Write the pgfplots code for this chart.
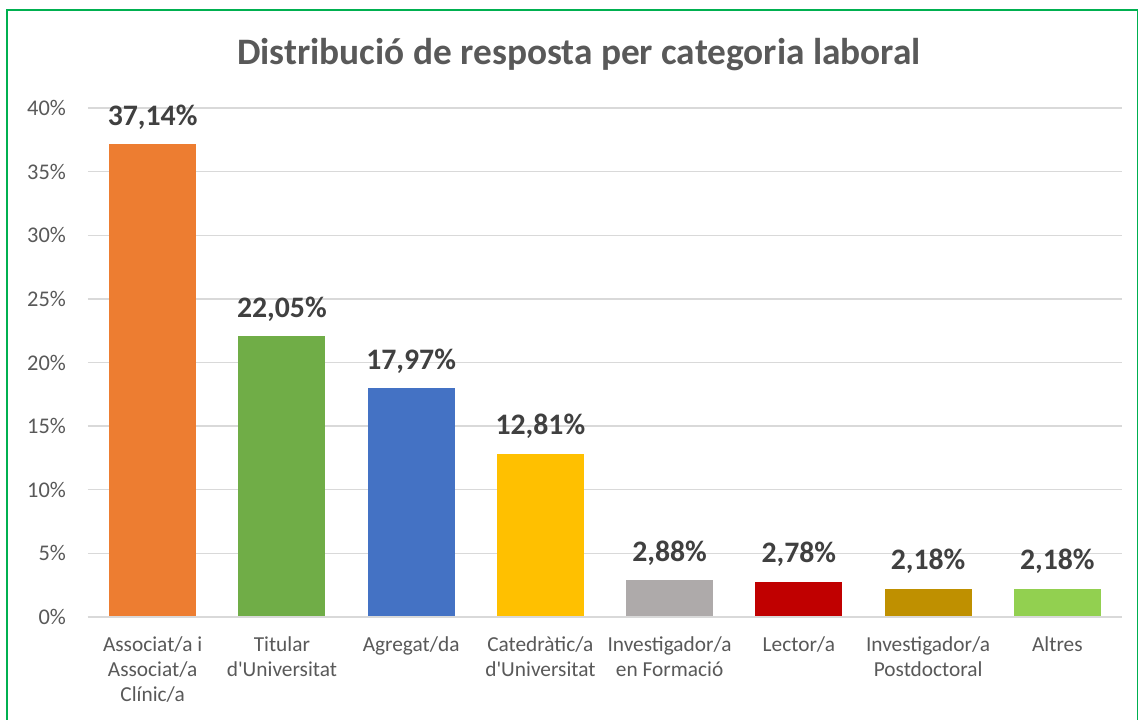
\documentclass[border=0pt]{standalone}
\usepackage{pgfplots}
\pgfplotsset{compat=1.18}
\usepackage{fontspec}
\setmainfont{Carlito}
\definecolor{txt}{HTML}{595959}
\definecolor{lbl}{HTML}{404040}
\definecolor{grd}{HTML}{D9D9D9}
\definecolor{frm}{HTML}{00B050}
\definecolor{c1}{HTML}{ED7D31}
\definecolor{c2}{HTML}{70AD47}
\definecolor{c3}{HTML}{4472C4}
\definecolor{c4}{HTML}{FFC000}
\definecolor{c5}{HTML}{AEAAAA}
\definecolor{c6}{HTML}{C00000}
\definecolor{c7}{HTML}{BF9000}
\definecolor{c8}{HTML}{92D050}
\begin{document}
\begin{tikzpicture}[x=0.75pt,y=0.75pt]
\useasboundingbox (0,0) rectangle (1141,719);
\fill[white] (0,0) rectangle (1141,719);
\draw[frm, line width=1.2pt] (7,-20) rectangle (1137.5,709);
\node[anchor=base, text=txt, font=\fontsize{28}{33}\selectfont\bfseries] at (579,654) {Distribució de resposta per categoria laboral};
\begin{axis}[
  at={(66pt,76.5pt)}, anchor=south west,
  scale only axis, width=775.5pt, height=381.75pt,
  xmin=-0.5, xmax=7.5, ymin=0, ymax=40,
  ytick={0,5,...,40},
  xtick={0,...,7},
  xticklabels={{Associat/a i\\Associat/a\\Clínic/a},{Titular\\d\textquotesingle Universitat},{Agregat/da},{Catedràtic/a\\d\textquotesingle Universitat},{Investigador/a\\en Formació},{Lector/a},{Investigador/a\\Postdoctoral},{Altres}},
  /pgf/number format/assume math mode=true,
  yticklabel={\pgfmathprintnumber{\tick}\%},
  yticklabel style={font=\fontsize{16.8}{19}\selectfont, text=txt, anchor=east, xshift=-13pt},
  xticklabel style={font=\fontsize{16}{18.75}\selectfont, text=txt, align=center, anchor=north, yshift=-11pt},
  major tick length=0pt,
  axis line style={draw=none},
  ymajorgrids, grid style={grd, line width=1.1pt},
  clip=false,
  ybar, bar width=65.25pt, bar shift=0pt,
  nodes near coords={\pgfmathprintnumber[fixed,fixed zerofill,precision=2,use comma]{\pgfplotspointmeta}\%},
  nodes near coords style={font=\fontsize{22.3}{27}\selectfont\bfseries, text=lbl, anchor=base, inner sep=0pt, yshift=14.5pt},
]
\addplot[fill=c1, draw=none] coordinates {(0,37.14)};
\addplot[fill=c2, draw=none] coordinates {(1,22.05)};
\addplot[fill=c3, draw=none] coordinates {(2,17.97)};
\addplot[fill=c4, draw=none] coordinates {(3,12.81)};
\addplot[fill=c5, draw=none] coordinates {(4,2.88)};
\addplot[fill=c6, draw=none] coordinates {(5,2.78)};
\addplot[fill=c7, draw=none] coordinates {(6,2.18)};
\addplot[fill=c8, draw=none] coordinates {(7,2.18)};
\draw[grd, line width=1.1pt] (axis cs:-0.5,0) -- (axis cs:7.5,0);
\end{axis}
\end{tikzpicture}
\end{document}
